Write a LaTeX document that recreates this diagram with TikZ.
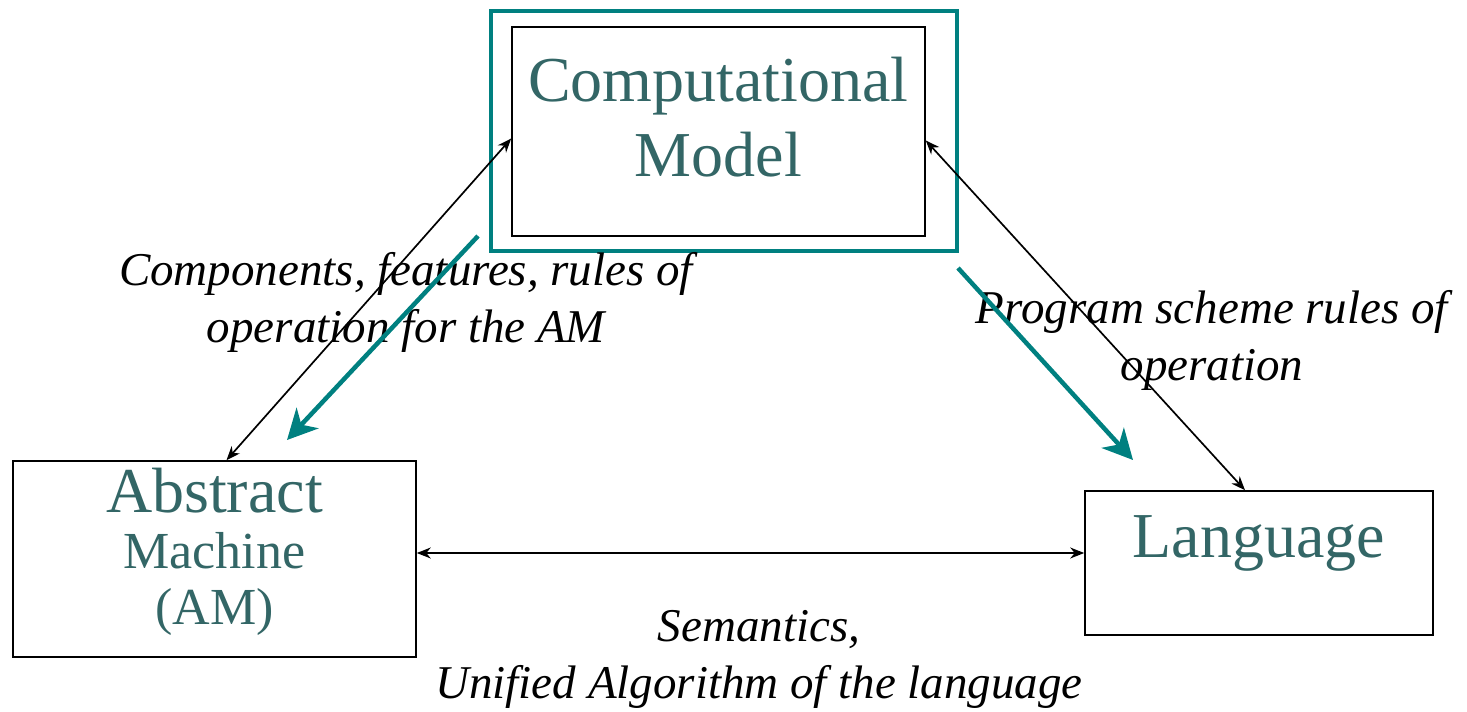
\documentclass[tikz,border=0pt]{standalone}
\usepackage{fontspec}
\setmainfont{Liberation Serif}
\usetikzlibrary{arrows.meta}
\definecolor{tealline}{HTML}{008080}
\definecolor{tealtext}{HTML}{336666}
\begin{document}
\begin{tikzpicture}[
        x=1pt, y=-1pt,
        boxn/.style={draw, line width=1.6pt, inner sep=0pt},
        outern/.style={draw=tealline, line width=4.5pt, inner sep=0pt},
        bigtext/.style={text=tealtext, align=center, font=\fontsize{64}{75}\selectfont},
        labeln/.style={align=center, font=\fontsize{47}{57}\selectfont\itshape},
        dblarrow/.style={{Stealth[length=14pt,width=11pt]}-{Stealth[length=14pt,width=11pt]}, line width=1.7pt},
        tealarrow/.style={-{Stealth[length=30pt,width=30pt,inset=9pt]}, draw=tealline, line width=4.5pt},
    ]
    \useasboundingbox (0,0) rectangle (1467,712);
    % boxes
    \node[outern, minimum width=466pt, minimum height=240pt](cmout) at (724,131){};
    \node[boxn, minimum width=413pt, minimum height=209pt](cm) at (718.5,131.5){};
    \node[boxn, minimum width=403pt, minimum height=196pt](am) at (214.5,559){};
    \node[boxn, minimum width=348pt, minimum height=144pt](lang) at (1259,563){};
    % box texts
    \node[bigtext](cmtext) at (718.5,117){Computational\\Model};
    \node[bigtext, font=\fontsize{52}{56}\selectfont](amtext) at (214.5,552){{\fontsize{64}{56}\selectfont Abstract}\\Machine\\(AM)};
    \node[bigtext](langtext) at (1259,543){Language};
    % labels
    \node[labeln](amlabel) at (406,302){Components, features, rules of\\operation for the AM};
    \node[labeln](langlabel) at (1212,340){Program scheme rules of\\operation};
    \node[labeln](semlabel) at (759,659){Semantics,\\Unified Algorithm of the language};
    % black connectors
    \draw[dblarrow] ([xshift=12pt]am.north) -- ([yshift=-7pt]cm.west);
    \draw[dblarrow] ([yshift=-9pt]cm.east) -- ([xshift=-14pt]lang.north);
    \draw[dblarrow] ([yshift=6pt]am.east) -- ([yshift=6pt]am.east -| lang.west);
    % teal arrows
    \coordinate (t1s) at (478,236);
    \coordinate (t1e) at (287,440);
    \coordinate (t2s) at (958,268);
    \coordinate (t2e) at (1133,460);
    \draw[tealarrow] (t1s) -- (t1e);
    \draw[tealarrow] (t2s) -- (t2e);
\end{tikzpicture}
\end{document}
